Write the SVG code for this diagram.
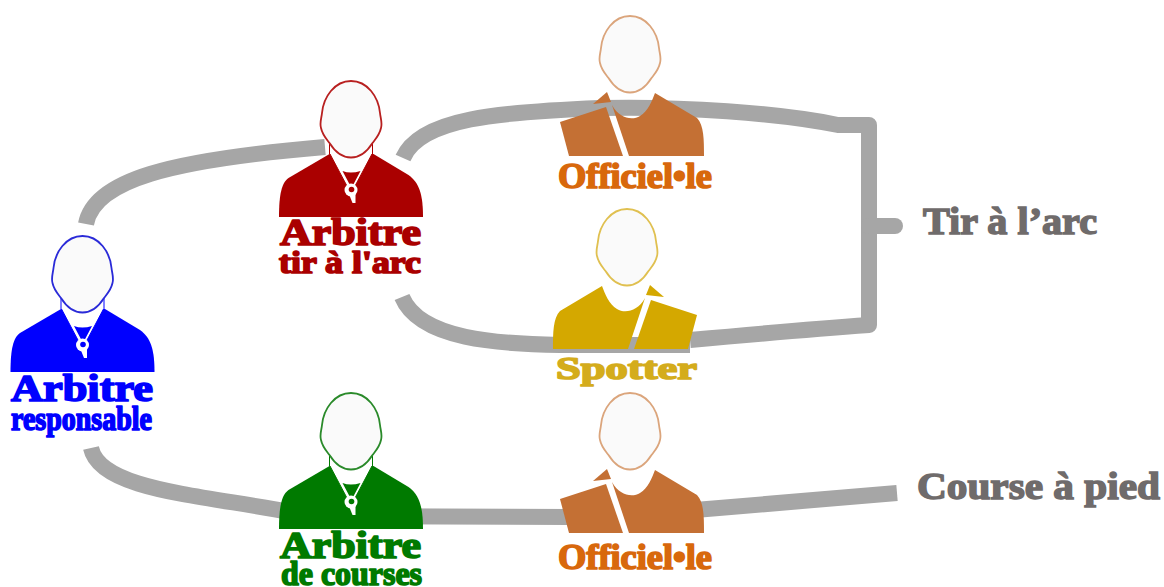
<svg xmlns="http://www.w3.org/2000/svg" width="1164" height="587" viewBox="0 0 1164 587">
<style>
.c{fill:none;stroke:#a6a6a6;stroke-width:16;stroke-linejoin:round}
.head{fill:#fafafa;stroke-width:1.8}
.t{font-family:"Liberation Serif",serif;font-weight:700;stroke-width:1.7;stroke-linejoin:round}
.l{font-family:"Liberation Serif",serif;font-weight:700;fill:#6f6b6b;stroke:#6f6b6b;stroke-width:1.5}
</style>
<defs>
<path id="h" d="M82.500 236C66 236 55 252 53.500 268C53 273 51 278 52.500 283C54 290 58 294 61 298C66 306 73 312.500 82.500 312.500C92 312.500 99 306 104 298C107 294 111 290 112.500 283C114 278 112 273 111.500 268C110 252 99 236 82.500 236Z"/>
<path id="rb" d="M61 309L20 333C13 338 10.500 350 10.500 372H154.500C154.500 350 151 338 140 330L105 309Z"/>
<g id="whistle">
<path d="M60 306L105 306L84 346H81Z" fill="#fff"/>
<path d="M74 326Q82 329 92 326L83 343Z" fill="currentColor"/>
<path d="M61.500 309L79 342M103.500 309L86 342" fill="none" stroke="currentColor" stroke-width="1"/>
<circle cx="82.500" cy="345" r="6.500" fill="#fff"/>
<path d="M80 348H87L87 358H84Z" fill="#fff"/>
<circle cx="83" cy="344.500" r="2.800" fill="currentColor"/>
<path d="M61 297V309M104 297V309" fill="none" stroke="currentColor" stroke-width="1"/>
</g>
<path id="o1" d="M560 122L606 107L623 156H569Z"/>
<path id="o2" d="M593 104L607 92L611 102Z"/>
<path id="o3" d="M612 105C619 118 632 121 640 116C648 111 652 101 655 93L697 118C704 125 704 140 704 156H629Z"/>
</defs>
<rect width="1164" height="587" fill="#fff"/>
<g id="connectors">
<path class="c" d="M86 224C94 180 170 160 325 147"/>
<path class="c" d="M91 448C100 490 200 495 290 512L300 516L570 517"/>
<path class="c" d="M695 510L897 493"/>
<path class="c" d="M403 158C420 118 500 112 600 108C680 106 780 113 838 125H869V325Q800 330 690 340"/>
<path class="c" d="M402 297C420 340 500 344 560 345H690"/>
<path class="c" d="M869 226H895" stroke-linecap="round"/>
</g>
<g id="arbitre-responsable" color="#0000ff">
<use href="#rb" fill="#0000ff"/><use href="#whistle"/><use href="#h" class="head" stroke="#2a2ad8"/>
<text class="t" fill="#0000ff" stroke="#0000ff" x="11" y="401" font-size="37" textLength="142" lengthAdjust="spacingAndGlyphs">Arbitre</text>
<text class="t" fill="#0000ff" stroke="#0000ff" x="11" y="430" font-size="33" textLength="141" lengthAdjust="spacingAndGlyphs">responsable</text>
</g>
<g id="arbitre-tir" color="#aa0000">
<g transform="translate(268.500,-155)"><use href="#rb" fill="#aa0000"/><use href="#whistle"/><use href="#h" class="head" stroke="#b82020"/></g>
<text class="t" fill="#aa0000" stroke="#aa0000" x="280" y="245" font-size="37" textLength="141" lengthAdjust="spacingAndGlyphs">Arbitre</text>
<text class="t" fill="#aa0000" stroke="#aa0000" x="279" y="273" font-size="31" textLength="142" lengthAdjust="spacingAndGlyphs">tir à l'arc</text>
</g>
<g id="arbitre-courses" color="#007a00">
<g transform="translate(268.500,157)"><use href="#rb" fill="#007a00"/><use href="#whistle"/><use href="#h" class="head" stroke="#2a8a2a"/></g>
<text class="t" fill="#007a00" stroke="#007a00" x="280" y="558" font-size="37" textLength="141" lengthAdjust="spacingAndGlyphs">Arbitre</text>
<text class="t" fill="#007a00" stroke="#007a00" x="281" y="585" font-size="34" textLength="141" lengthAdjust="spacingAndGlyphs">de courses</text>
</g>
<g id="officiel-tir" fill="#c47034">
<use href="#o1"/><use href="#o2"/><use href="#o3"/>
<use href="#h" transform="translate(547.500,-220)" class="head" stroke="#dba57c"/>
<text class="t" fill="#d8680c" stroke="#d8680c" x="558" y="188" font-size="36" textLength="154" lengthAdjust="spacingAndGlyphs">Officiel•le</text>
</g>
<g id="spotter" fill="#d4a800">
<g transform="translate(1257,193) scale(-1,1)"><use href="#o1"/><use href="#o2"/><use href="#o3"/></g>
<use href="#h" transform="translate(544.500,-27)" class="head" stroke="#e0c050"/>
<text class="t" fill="#d4ac1c" stroke="#d4ac1c" x="556" y="379" font-size="32" textLength="141" lengthAdjust="spacingAndGlyphs">Spotter</text>
</g>
<g id="officiel-course" fill="#c47034">
<g transform="translate(0,377)"><use href="#o1"/><use href="#o2"/><use href="#o3"/></g>
<use href="#h" transform="translate(547.500,157)" class="head" stroke="#dba57c"/>
<text class="t" fill="#d8680c" stroke="#d8680c" x="558" y="569" font-size="36" textLength="154" lengthAdjust="spacingAndGlyphs">Officiel•le</text>
</g>
<text id="tir-label" class="l" x="923" y="234" font-size="38" textLength="174" lengthAdjust="spacingAndGlyphs">Tir à l’arc</text>
<text id="course-label" class="l" x="917" y="499" font-size="38" textLength="243" lengthAdjust="spacingAndGlyphs">Course à pied</text>
</svg>
